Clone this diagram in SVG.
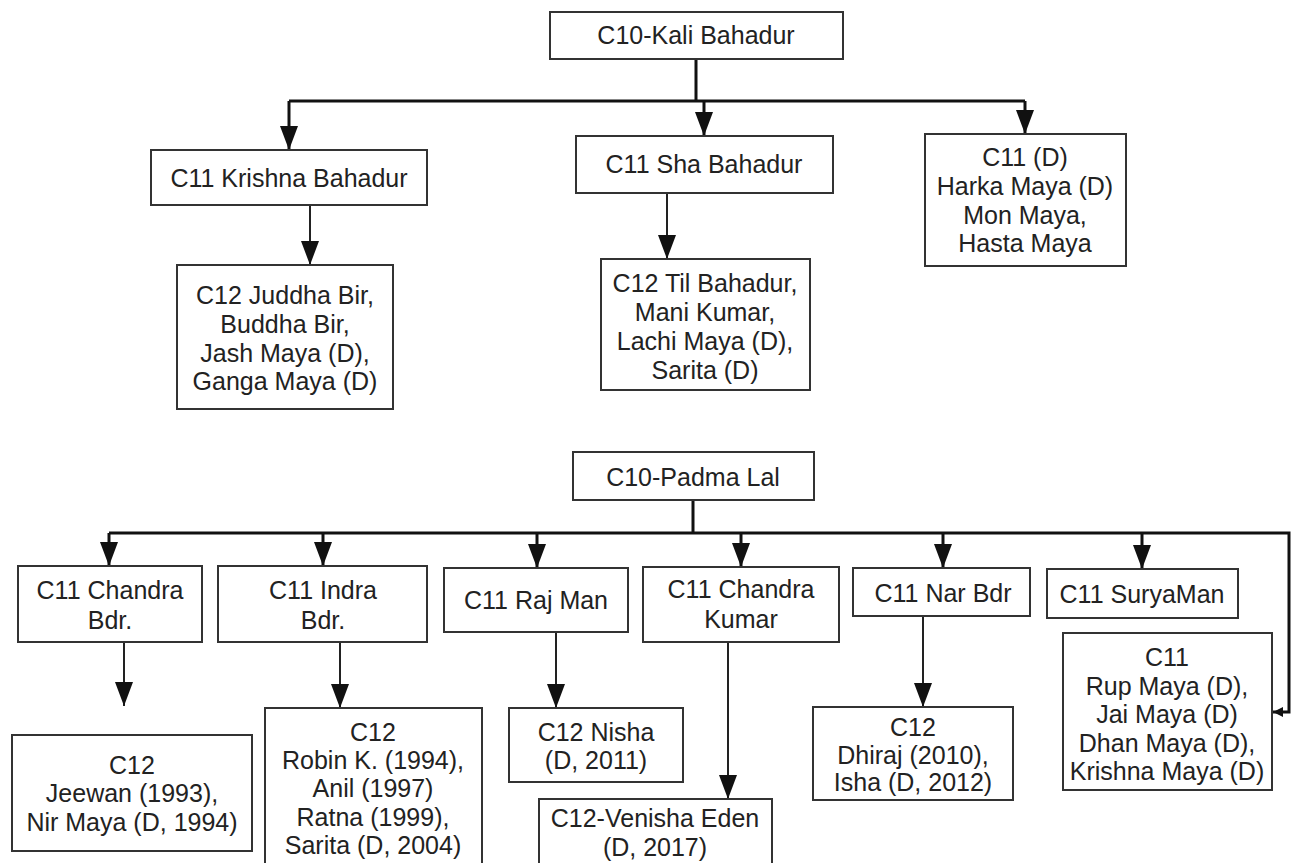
<svg xmlns="http://www.w3.org/2000/svg" width="1293" height="863" viewBox="0 0 1293 863">
<style>
.box{fill:#fff;stroke:#333;stroke-width:2}
.t{font-family:"Liberation Sans",Arial,sans-serif;font-size:25px;fill:#222;text-anchor:middle}
.bus{fill:none;stroke:#111;stroke-width:3}
.ln{fill:none;stroke:#222;stroke-width:2}
</style>
<defs>
<marker id="arr" viewBox="0 0 24 18" refX="24" refY="9" markerWidth="24" markerHeight="18" markerUnits="userSpaceOnUse" orient="auto">
<path d="M0,0 L24,9 L0,18 Z" fill="#111"/>
</marker>
<marker id="arrs" viewBox="0 0 10 10" refX="10" refY="5" markerWidth="10" markerHeight="10" markerUnits="userSpaceOnUse" orient="auto">
<path d="M0,0 L10,5 L0,10 Z" fill="#111"/>
</marker>
</defs>
<rect width="1293" height="863" fill="#fff"/>
<g id="connectors">
<path class="bus" d="M696,59 V101 M289,101 H1025"/>
<path class="bus" d="M289,101 V150" marker-end="url(#arr)"/>
<path class="bus" d="M704,101 V136" marker-end="url(#arr)"/>
<path class="bus" d="M1025,101 V134" marker-end="url(#arr)"/>
<path class="ln" d="M310,205 V265" marker-end="url(#arr)"/>
<path class="ln" d="M667,193 V259" marker-end="url(#arr)"/>
<path class="bus" d="M693,500 V533 M109,533 H1289 V712 H1273" marker-end="url(#arrs)"/>
<path class="bus" d="M109,533 V566" marker-end="url(#arr)"/>
<path class="bus" d="M323,533 V566" marker-end="url(#arr)"/>
<path class="bus" d="M537,533 V568" marker-end="url(#arr)"/>
<path class="bus" d="M741,533 V567" marker-end="url(#arr)"/>
<path class="bus" d="M943,533 V568" marker-end="url(#arr)"/>
<path class="bus" d="M1142,533 V569" marker-end="url(#arr)"/>
<path class="ln" d="M124,642 V706" marker-end="url(#arr)"/>
<path class="ln" d="M340,642 V708" marker-end="url(#arr)"/>
<path class="ln" d="M556,632 V708" marker-end="url(#arr)"/>
<path class="ln" d="M728,642 V799" marker-end="url(#arr)"/>
<path class="ln" d="M923,616 V707" marker-end="url(#arr)"/>
</g>
<g id="kali"><rect class="box" x="550" y="12" width="293" height="47"/><text class="t" x="696" y="44">C10-Kali Bahadur</text></g>
<g id="krishna"><rect class="box" x="151" y="150" width="276" height="55"/><text class="t" x="289" y="187">C11 Krishna Bahadur</text></g>
<g id="sha"><rect class="box" x="576" y="136" width="257" height="57"/><text class="t" x="704" y="173">C11 Sha Bahadur</text></g>
<g id="c11d"><rect class="box" x="925" y="134" width="201" height="132"/>
<text class="t" x="1025" y="166">C11 (D)</text><text class="t" x="1025" y="195">Harka Maya (D)</text><text class="t" x="1025" y="224">Mon Maya,</text><text class="t" x="1025" y="252">Hasta Maya</text></g>
<g id="juddha"><rect class="box" x="177" y="265" width="216" height="144"/>
<text class="t" x="285" y="304">C12 Juddha Bir,</text><text class="t" x="285" y="333">Buddha Bir,</text><text class="t" x="285" y="362">Jash Maya (D),</text><text class="t" x="285" y="390">Ganga Maya (D)</text></g>
<g id="til"><rect class="box" x="601" y="259" width="209" height="131"/>
<text class="t" x="705" y="292">C12 Til Bahadur,</text><text class="t" x="705" y="321">Mani Kumar,</text><text class="t" x="705" y="350">Lachi Maya (D),</text><text class="t" x="705" y="379">Sarita (D)</text></g>
<g id="padma"><rect class="box" x="573" y="452" width="241" height="48"/><text class="t" x="693" y="486">C10-Padma Lal</text></g>
<g id="chandrabdr"><rect class="box" x="18" y="566" width="184" height="76"/><text class="t" x="110" y="599">C11 Chandra</text><text class="t" x="110" y="629">Bdr.</text></g>
<g id="indra"><rect class="box" x="218" y="566" width="209" height="76"/><text class="t" x="323" y="599">C11 Indra</text><text class="t" x="323" y="629">Bdr.</text></g>
<g id="rajman"><rect class="box" x="444" y="568" width="184" height="64"/><text class="t" x="536" y="609">C11 Raj Man</text></g>
<g id="chandrakumar"><rect class="box" x="643" y="567" width="196" height="75"/><text class="t" x="741" y="598">C11 Chandra</text><text class="t" x="741" y="628">Kumar</text></g>
<g id="narbdr"><rect class="box" x="853" y="568" width="177" height="48"/><text class="t" x="943" y="602">C11 Nar Bdr</text></g>
<g id="suryaman"><rect class="box" x="1047" y="569" width="191" height="49"/><text class="t" x="1142" y="603">C11 SuryaMan</text></g>
<g id="rupmaya"><rect class="box" x="1063" y="633" width="209" height="157"/>
<text class="t" x="1167" y="666">C11</text><text class="t" x="1167" y="695">Rup Maya (D),</text><text class="t" x="1167" y="723">Jai Maya (D)</text><text class="t" x="1167" y="752">Dhan Maya (D),</text><text class="t" x="1167" y="780">Krishna Maya (D)</text></g>
<g id="jeewan"><rect class="box" x="12" y="735" width="240" height="116"/>
<text class="t" x="132" y="774">C12</text><text class="t" x="132" y="802">Jeewan (1993),</text><text class="t" x="132" y="831">Nir Maya (D, 1994)</text></g>
<g id="robin"><rect class="box" x="265" y="708" width="217" height="160"/>
<text class="t" x="373" y="741">C12</text><text class="t" x="373" y="769">Robin K. (1994),</text><text class="t" x="373" y="797">Anil (1997)</text><text class="t" x="373" y="826">Ratna (1999),</text><text class="t" x="373" y="854">Sarita (D, 2004)</text></g>
<g id="nisha"><rect class="box" x="509" y="708" width="174" height="74"/>
<text class="t" x="596" y="741">C12 Nisha</text><text class="t" x="596" y="769">(D, 2011)</text></g>
<g id="venisha"><rect class="box" x="539" y="799" width="233" height="70"/>
<text class="t" x="655" y="827">C12-Venisha Eden</text><text class="t" x="655" y="856">(D, 2017)</text></g>
<g id="dhiraj"><rect class="box" x="813" y="707" width="200" height="93"/>
<text class="t" x="913" y="736">C12</text><text class="t" x="913" y="764">Dhiraj (2010),</text><text class="t" x="913" y="791">Isha (D, 2012)</text></g>
</svg>
